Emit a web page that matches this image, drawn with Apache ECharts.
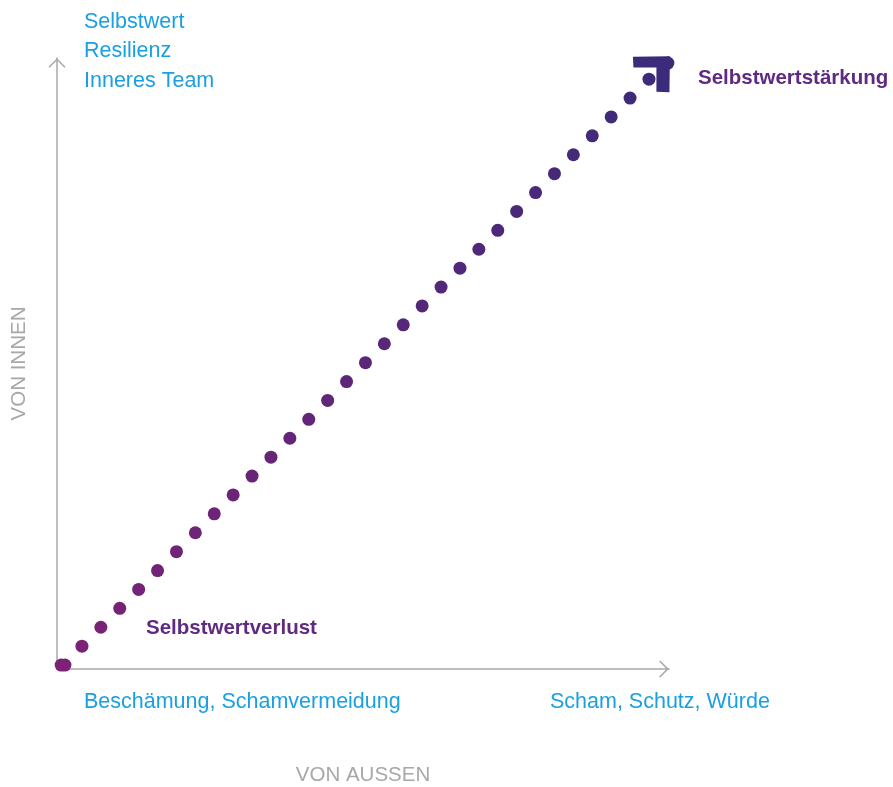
<!DOCTYPE html>
<html>
<head>
<meta charset="utf-8">
<script src="https://cdn.jsdelivr.net/npm/echarts@6/dist/echarts.min.js"></script>
<style>
  html, body { margin: 0; padding: 0; background: #ffffff; }
  #chart { width: 893px; height: 787px; }
</style>
</head>
<body>
<div id="chart"></div>
<script>
// ---- data ----
const dotX = [-0.1, 0.1, 1, 2, 3, 4, 5, 6, 7, 8, 9, 10, 11, 12, 13, 14, 15, 16, 17, 18, 19, 20, 21, 22, 23, 24, 25, 26, 27, 28, 29, 30, 31, 32.0];
const dotY = [0, 0, 1, 2, 3, 4, 5, 6, 7, 8, 9, 10, 11, 12, 13, 14, 15, 16, 17, 18, 19, 20, 21, 22, 23, 24, 25, 26, 27, 28, 29, 30, 31, 31.85];
const arrowHeadX = [31.13];
const arrowHeadY = [31.26];
const xAxisTitle = 'VON AUSSEN';
const yAxisTitle = 'VON INNEN';
const topLabels = ['Selbstwert', 'Resilienz', 'Inneres Team'];
const xLeftLabel = 'Beschämung, Schamvermeidung';
const xRightLabel = 'Scham, Schutz, Würde';
const lowLabel = 'Selbstwertverlust';
const highLabel = 'Selbstwertstärkung';

const blue = '#1aa0e2';
const purple = '#5f2a80';
const gray = '#a8a8a8';
const font = '"Liberation Sans", Arial, Helvetica, sans-serif';

const chevron = 'path://M8.5,0 L17,8.6 L15.9,9.7 L8.5,2.2 L1.1,9.7 L0,8.6 Z';

const chart = echarts.init(document.getElementById('chart'), null, { renderer: 'canvas' });

const blueText = (txt, x, y) => ({
  type: 'text', left: x, top: y,
  style: { text: txt, fill: blue, font: 'normal 21.5px ' + font }
});

const graphics = [];
topLabels.forEach((t, i) => graphics.push(blueText(t, 84, 11 + i * 29.5)));
graphics.push(blueText(xLeftLabel, 84, 691));
graphics.push(blueText(xRightLabel, 550, 691));
graphics.push({ type: 'text', left: 146, top: 618,
  style: { text: lowLabel, fill: purple, font: 'bold 20.5px ' + font } });
graphics.push({ type: 'text', left: 698, top: 68,
  style: { text: highLabel, fill: purple, font: 'bold 20.5px ' + font } });

const axisCommon = {
  type: 'value',
  axisTick: { show: false },
  axisLabel: { show: false },
  splitLine: { show: false },
  axisLine: {
    show: true, onZero: false,
    symbol: ['none', chevron],
    symbolSize: [17, 10],
    symbolOffset: [0, -5],
    lineStyle: { color: gray, width: 1.5 }
  },
  nameLocation: 'middle',
  nameTextStyle: { color: gray, fontSize: 20.5, fontFamily: font }
};

chart.setOption({
  animation: false,
  backgroundColor: '#ffffff',
  grid: { left: 57, right: 224, top: 58, bottom: 118, containLabel: false, outerBoundsMode: 'none' },
  xAxis: Object.assign({}, axisCommon, { min: -0.32, max: 32.06, name: xAxisTitle, nameGap: 96 }),
  yAxis: Object.assign({}, axisCommon, { min: -0.21, max: 32.12, name: yAxisTitle, nameGap: 27 }),
  visualMap: {
    show: false, type: 'continuous', seriesIndex: 0, dimension: 0,
    min: 0, max: 32, inRange: { color: ['#7c2276', '#3b2b7a'] }
  },
  series: [
    {
      type: 'scatter',
      symbol: 'circle',
      symbolSize: 13,
      itemStyle: { opacity: 1 },
      data: dotX.map((x, i) => [x, dotY[i]]),
      z: 2
    },
    {
      type: 'scatter',
      symbol: 'path://M0,0 L37,-0.5 L36.5,36 L23.5,35.5 L23.5,11 L0.5,11 Z',
      symbolSize: [37, 36],
      symbolKeepAspect: false,
      itemStyle: { color: '#3b2b7a', opacity: 1 },
      data: arrowHeadX.map((x, i) => [x, arrowHeadY[i]]),
      z: 1
    }
  ],
  graphic: graphics
});
</script>
</body>
</html>
